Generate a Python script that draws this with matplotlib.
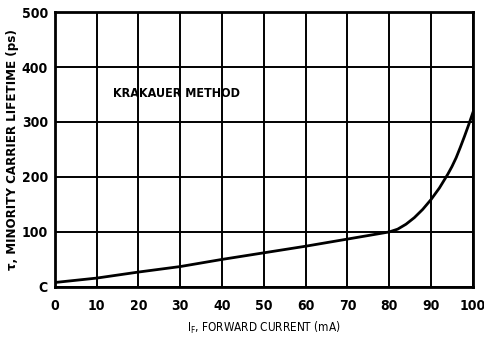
import matplotlib
matplotlib.use("Agg")
import matplotlib.pyplot as plt

current_ma = [0, 10, 20, 30, 40, 50, 60, 70, 80, 82, 84, 86, 88, 90, 92, 94, 95, 96, 97, 98, 99, 100]
lifetime_ps = [8, 16, 27, 37, 50, 62, 74, 87, 100, 105, 114, 126, 141, 159, 180, 205, 219, 235, 254, 274, 295, 317]

x_ticks = [0, 10, 20, 30, 40, 50, 60, 70, 80, 90, 100]
y_ticks = [0, 100, 200, 300, 400, 500]
y_labels = ["C", "100", "200", "300", "400", "500"]

plt.rcParams['font.family'] = ['DejaVu Sans']
plt.rcParams['font.stretch'] = 'condensed'
plt.rcParams['font.weight'] = 'bold'

fig = plt.figure(figsize=(4.85, 3.44), dpi=100)
ax = fig.add_axes([0.113, 0.166, 0.862, 0.799])

ax.plot(current_ma, lifetime_ps, color='black', lw=2.0, zorder=3)

ax.set_xlim(0, 100)
ax.set_ylim(0, 500)
ax.set_xticks(x_ticks)
ax.set_yticks(y_ticks)
ax.set_yticklabels(y_labels)
ax.grid(True, color='black', lw=1.4)
ax.tick_params(length=0, labelsize=10)
ax.tick_params(axis='x', pad=9)
ax.tick_params(axis='y', pad=5)
for s in ax.spines.values():
    s.set_linewidth(2)

ax.text(14, 352, "KRAKAUER METHOD", fontsize=9, va='center')
ax.set_xlabel("I$_\\mathregular{F}$, FORWARD CURRENT (mA)", fontsize=8.5,
              fontweight='normal')
ax.xaxis.set_label_coords(0.5, -0.12)
ax.set_ylabel("τ, MINORITY CARRIER LIFETIME (ps)", fontsize=9.5,
              fontweight='bold')
ax.yaxis.set_label_coords(-0.085, 0.5)

fig.savefig("out.png", dpi=100)
